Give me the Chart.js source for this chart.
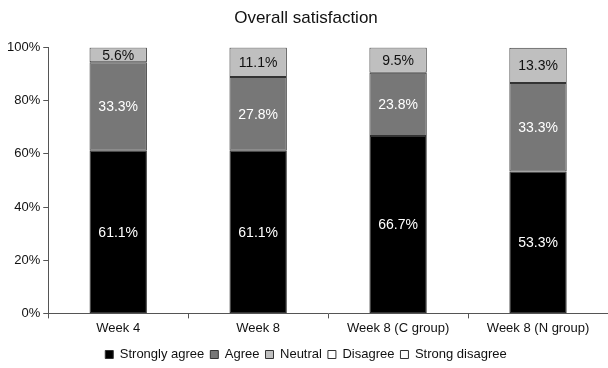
<!DOCTYPE html>
<html>
<head>
<meta charset="utf-8">
<script src="https://cdn.jsdelivr.net/npm/chart.js@4"></script>
<style>
  html, body { margin: 0; padding: 0; background: #fff; }
  #wrap { width: 608px; height: 368px; }
</style>
</head>
<body>
<div id="wrap"><canvas id="c" width="608" height="368"></canvas></div>
<script>
// Survey groups on the x axis
const categories = ['Week 4', 'Week 8', 'Week 8 (C group)', 'Week 8 (N group)'];

// Share of answers per response level (percent)
const stronglyAgree   = [61.1, 61.1, 66.7, 53.3];
const agree           = [33.3, 27.8, 23.8, 33.3];
const neutral         = [5.6, 11.1, 9.5, 13.3];
const disagree        = [0, 0, 0, 0];
const strongDisagree  = [0, 0, 0, 0];

const seriesNames = ['Strongly agree', 'Agree', 'Neutral', 'Disagree', 'Strong disagree'];
const yTicks = [0, 20, 40, 60, 80, 100];

const FONT = '"Liberation Sans", Arial, sans-serif';

// Writes each non-zero segment's percentage in its middle
const segmentLabels = {
  id: 'segmentLabels',
  afterDatasetsDraw(chart) {
    const ctx = chart.ctx;
    ctx.save();
    ctx.font = '14px ' + FONT;
    ctx.textAlign = 'center';
    ctx.textBaseline = 'middle';
    chart.data.datasets.forEach((ds, di) => {
      const meta = chart.getDatasetMeta(di);
      meta.data.forEach((bar, i) => {
        const v = ds.data[i];
        if (!v) return;
        const p = bar.getProps(['x', 'y', 'base'], true);
        ctx.fillStyle = ds.labelColor;
        ctx.fillText(v.toFixed(1) + '%', p.x, (p.y + p.base) / 2 + 1);
      });
    });
    ctx.restore();
  }
};

const colors = ['#000000', '#777777', '#bfbfbf', '#ffffff', '#ffffff'];
const labelColors = ['#ffffff', '#ffffff', '#111111', '#111111', '#111111'];
const values = [stronglyAgree, agree, neutral, disagree, strongDisagree];

new Chart(document.getElementById('c'), {
  type: 'bar',
  data: {
    labels: categories,
    datasets: values.map((vals, k) => ({
      label: seriesNames[k],
      data: vals,
      backgroundColor: colors[k],
      borderColor: '#333333',
      borderWidth: 1,
      borderSkipped: false,
      labelColor: labelColors[k],
      barPercentage: 0.41,
      categoryPercentage: 1.0
    }))
  },
  options: {
    responsive: false,
    animation: false,
    devicePixelRatio: 1,
    layout: { padding: { left: 4, right: 0, top: 4, bottom: -3 } },
    plugins: {
      title: {
        display: true,
        text: 'Overall satisfaction',
        color: '#111',
        font: { family: FONT, size: 17, weight: 'normal' },
        padding: { top: 4, bottom: 19 }
      },
      legend: {
        position: 'bottom',
        labels: {
          color: '#111',
          font: { family: FONT, size: 13 },
          boxWidth: 8,
          boxHeight: 8,
          padding: 6,
          generateLabels(chart) {
            return chart.data.datasets.map((ds, i) => ({
              text: ds.label,
              fillStyle: ds.backgroundColor,
              strokeStyle: '#333',
              lineWidth: 1,
              fontColor: '#111',
              datasetIndex: i
            }));
          }
        }
      },
      tooltip: { enabled: false }
    },
    scales: {
      x: {
        stacked: true,
        afterFit(axis) { axis.height += 4; },
        grid: { offset: true, drawOnChartArea: false, drawTicks: true, tickLength: 5, color: '#555' },
        border: { color: '#555', width: 1 },
        ticks: { color: '#111', font: { family: FONT, size: 13 }, padding: 2 }
      },
      y: {
        stacked: true,
        min: 0,
        max: 100,
        afterBuildTicks(axis) { axis.ticks = yTicks.map(v => ({ value: v })); },
        grid: { drawOnChartArea: false, drawTicks: true, tickLength: 5, color: '#555' },
        border: { color: '#555', width: 1 },
        ticks: {
          color: '#111',
          font: { family: FONT, size: 13 },
          padding: 3,
          callback: v => v + '%'
        }
      }
    }
  },
  plugins: [segmentLabels]
});
</script>
</body>
</html>
